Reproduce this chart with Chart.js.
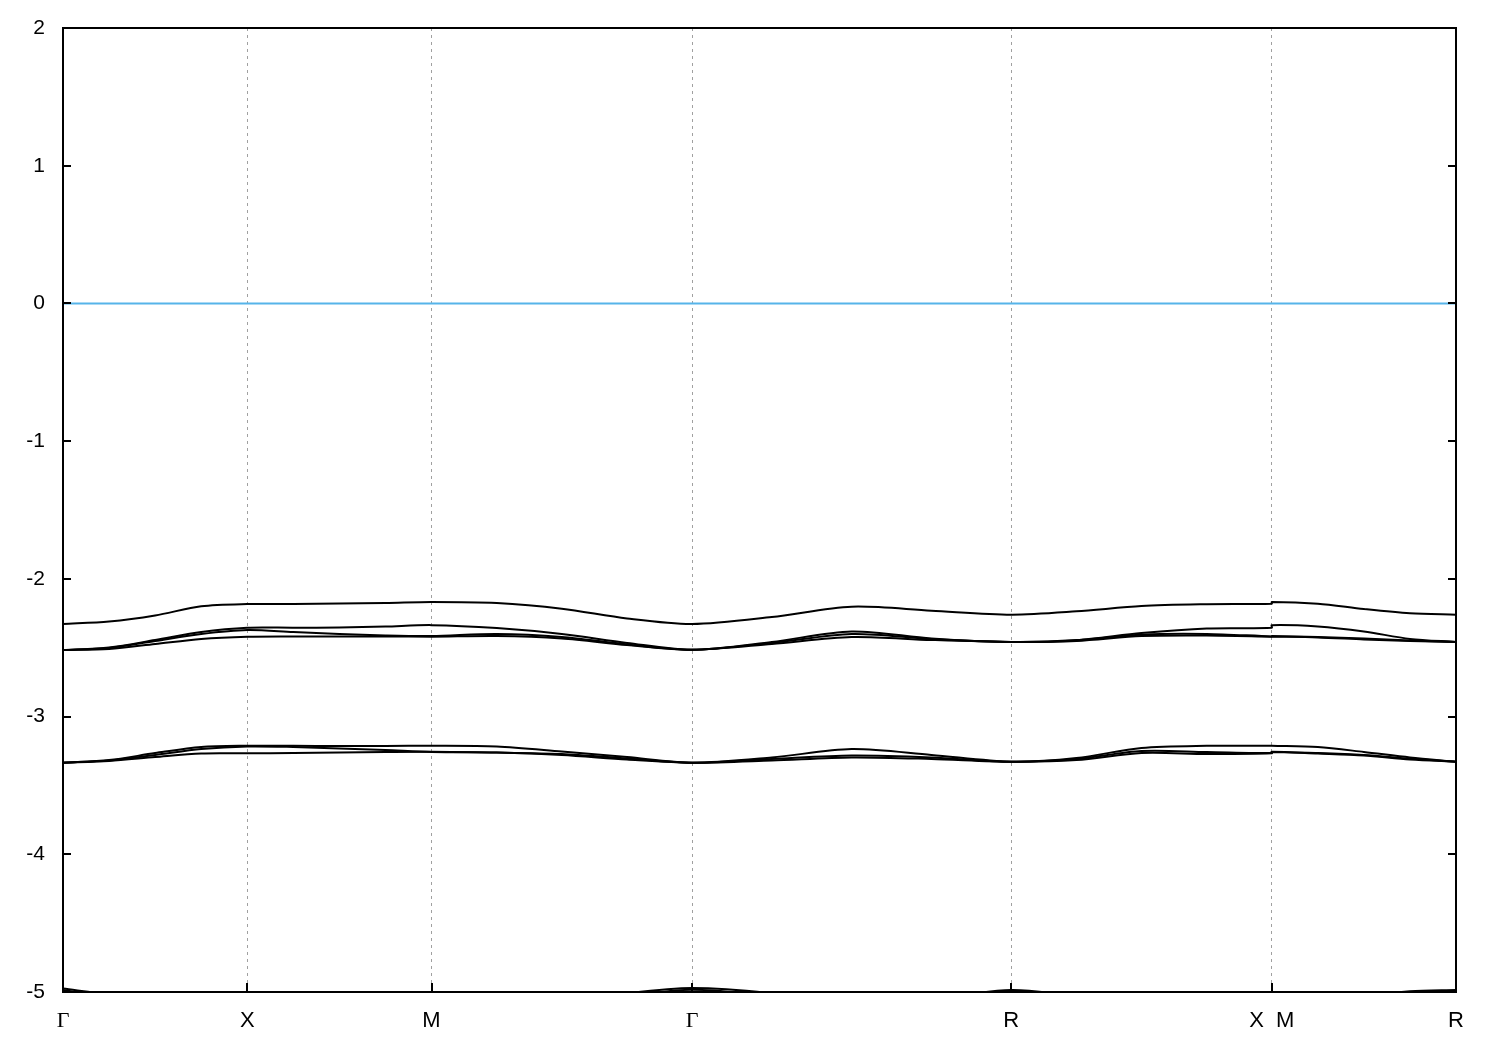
<!DOCTYPE html>
<html>
<head>
<meta charset="utf-8">
<script src="https://cdn.jsdelivr.net/npm/chart.js@4"></script>
<style>
  html, body { margin: 0; padding: 0; background: #fff; }
  #wrap { width: 1500px; height: 1050px; }
</style>
</head>
<body>
<div id="wrap"><canvas id="bands" width="1500" height="1050"></canvas></div>
<script>
// k-path: high symmetry points and their positions along the path
var kPos = [0, 1, 2, 3.414, 5.146, 6.56, 7.56];
var kLabels = ["\u0393", "X", "M", "\u0393", "R", "X  M", "R"];

// sample positions along the path (X|M jump has two samples at 6.56)
var kx = [0, 0.25, 0.5, 0.75, 1,
          1.25, 1.5, 1.75, 2,
          2.354, 2.707, 3.061, 3.414,
          3.847, 4.28, 4.713, 5.146,
          5.5, 5.853, 6.207, 6.56,
          6.56, 6.81, 7.06, 7.31, 7.56];

// energies (eV)
var band1 = [-2.328, -2.310, -2.266, -2.199, -2.183,
             -2.183, -2.179, -2.176, -2.168,
             -2.176, -2.217, -2.288, -2.328,
             -2.277, -2.202, -2.231, -2.260,
             -2.236, -2.197, -2.184, -2.180,
             -2.168, -2.180, -2.219, -2.250, -2.260];
var band2 = [-2.517, -2.498, -2.444, -2.386, -2.355,
             -2.355, -2.353, -2.346, -2.336,
             -2.357, -2.400, -2.465, -2.515,
             -2.458, -2.382, -2.433, -2.458,
             -2.444, -2.393, -2.360, -2.355,
             -2.336, -2.346, -2.382, -2.436, -2.458];
var band3 = [-2.517, -2.502, -2.451, -2.400, -2.371,
             -2.386, -2.400, -2.411, -2.415,
             -2.400, -2.422, -2.476, -2.515,
             -2.465, -2.400, -2.436, -2.458,
             -2.447, -2.405, -2.400, -2.418,
             -2.415, -2.422, -2.433, -2.447, -2.458];
var band4 = [-2.517, -2.509, -2.473, -2.436, -2.420,
             -2.418, -2.418, -2.418, -2.420,
             -2.415, -2.433, -2.480, -2.515,
             -2.473, -2.422, -2.444, -2.458,
             -2.451, -2.415, -2.411, -2.420,
             -2.420, -2.425, -2.440, -2.451, -2.458];
var band5 = [-3.335, -3.316, -3.265, -3.221, -3.212,
             -3.212, -3.214, -3.214, -3.212,
             -3.217, -3.254, -3.294, -3.335,
             -3.297, -3.236, -3.279, -3.328,
             -3.301, -3.228, -3.212, -3.212,
             -3.212, -3.221, -3.257, -3.297, -3.328];
var band6 = [-3.335, -3.319, -3.279, -3.236, -3.217,
             -3.221, -3.232, -3.243, -3.257,
             -3.261, -3.272, -3.305, -3.335,
             -3.308, -3.283, -3.297, -3.328,
             -3.308, -3.250, -3.257, -3.265,
             -3.257, -3.265, -3.279, -3.305, -3.328];
var band7 = [-3.335, -3.323, -3.294, -3.268, -3.267,
             -3.265, -3.261, -3.257, -3.255,
             -3.261, -3.279, -3.312, -3.335,
             -3.319, -3.297, -3.308, -3.328,
             -3.316, -3.265, -3.272, -3.267,
             -3.255, -3.268, -3.283, -3.312, -3.328];
var band8 = [-4.975, -5.02, -5.08, -5.12, -5.14,
             -5.15, -5.15, -5.15, -5.15,
             -5.14, -5.08, -5.01, -4.971,
             -5.01, -5.10, -5.05, -4.986,
             -5.03, -5.10, -5.13, -5.14,
             -5.15, -5.12, -5.04, -4.995, -4.986];
var band9 = [-4.985, -5.04, -5.10, -5.14, -5.16,
             -5.17, -5.17, -5.17, -5.17,
             -5.16, -5.10, -5.03, -4.983,
             -5.03, -5.12, -5.07, -4.995,
             -5.05, -5.12, -5.15, -5.16,
             -5.17, -5.14, -5.06, -5.01, -4.995];
var fermi = [0, 0];

var bands = [band1, band2, band3, band4, band5, band6, band7, band8, band9];

function pts(vals) {
    return vals.map(function (v, i) { return {x: kx[i], y: v}; });
}

var datasets = bands.map(function (b, i) {
    return {
        label: "band " + (i + 1),
        data: pts(b),
        borderColor: "#000000",
        borderWidth: 2,
        pointRadius: 0,
        tension: 0.3,
        fill: false
    };
});
datasets.push({
    label: "Ef",
    data: [{x: kPos[0], y: fermi[0]}, {x: kPos[kPos.length - 1], y: fermi[1]}],
    borderColor: "#56B4E9",
    borderWidth: 2,
    pointRadius: 0,
    fill: false
});

// frame and inward tick marks, gnuplot style
var framePlugin = {
    id: "frame",
    afterDatasetsDraw: function (chart) {
        var ctx = chart.ctx;
        var a = chart.chartArea;
        var xs = chart.scales.x;
        var ys = chart.scales.y;
        ctx.save();
        ctx.strokeStyle = "#000";
        ctx.lineWidth = 2;
        ctx.beginPath();
        kPos.forEach(function (k) {
            var px = Math.round(xs.getPixelForValue(k));
            ctx.moveTo(px, a.bottom);
            ctx.lineTo(px, a.bottom - 9);
        });
        for (var v = -5; v <= 2; v++) {
            var py = Math.round(ys.getPixelForValue(v));
            ctx.moveTo(a.left, py);
            ctx.lineTo(a.left + 8, py);
            ctx.moveTo(a.right, py);
            ctx.lineTo(a.right - 8, py);
        }
        ctx.stroke();
        ctx.strokeRect(a.left, a.top, a.right - a.left, a.bottom - a.top);
        ctx.restore();
    }
};

var myChart = new Chart(document.getElementById("bands").getContext("2d"), {
    type: "line",
    data: {datasets: datasets},
    options: {
        responsive: false,
        animation: false,
        devicePixelRatio: 1,
        layout: {padding: {top: 28, right: 44, left: 0, bottom: 0}},
        plugins: {legend: {display: false}, tooltip: {enabled: false}},
        scales: {
            x: {
                type: "linear",
                min: 0,
                max: 7.56,
                afterBuildTicks: function (scale) {
                    scale.ticks = kPos.map(function (k) { return {value: k}; });
                },
                afterFit: function (scale) { scale.height = 58; },
                border: {display: false, dash: [3, 4]},
                grid: {
                    drawTicks: false,
                    color: function (c) {
                        return (c.index === 0 || c.index === kPos.length - 1) ? "rgba(0,0,0,0)" : "#a0a0a0";
                    },
                    lineWidth: 1
                },
                ticks: {
                    autoSkip: false,
                    maxRotation: 0,
                    padding: 16,
                    color: "#000",
                    font: function (c) {
                        var lbl = kLabels[c.index];
                        return {family: lbl === "\u0393" ? "Liberation Serif" : "Liberation Sans", size: 22};
                    },
                    callback: function (value, index) { return kLabels[index]; }
                }
            },
            y: {
                min: -5,
                max: 2,
                afterFit: function (scale) { scale.width = 63; },
                border: {display: false},
                grid: {display: false},
                ticks: {
                    stepSize: 1,
                    padding: 10,
                    color: "#000",
                    font: {family: "Liberation Sans", size: 21}
                }
            }
        }
    },
    plugins: [framePlugin]
});
</script>
</body>
</html>
